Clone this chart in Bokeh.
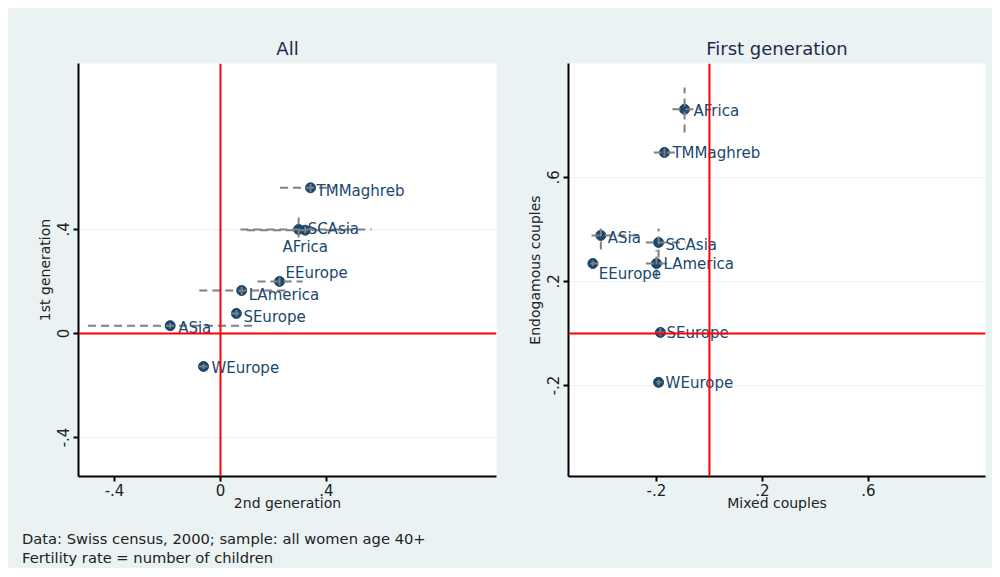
from bokeh.plotting import figure
from bokeh.models import ColumnDataSource, Range1d, FixedTicker, Span, Div
from bokeh.layouts import row, column
from bokeh.embed import file_html
from bokeh.resources import INLINE
from bokeh.core.properties import value

# ---------------- data ----------------
regions = ["TMMaghreb", "SCAsia", "AFrica", "EEurope", "LAmerica", "SEurope", "ASia", "WEurope"]

# Panel "All": x = 2nd generation, y = 1st generation
all_x = [0.34, 0.295, 0.32, 0.223, 0.08, 0.06, -0.19, -0.064]
all_y = [0.56, 0.40, 0.397, 0.20, 0.165, 0.077, 0.03, -0.127]
all_xlo = [0.225, 0.075, 0.10, 0.14, -0.08, 0.04, -0.50, -0.08]
all_xhi = [0.43, 0.57, 0.50, 0.31, 0.26, 0.08, 0.12, -0.045]
all_ylo = [0.545, 0.369, 0.385, 0.185, 0.15, 0.065, 0.02, -0.137]
all_yhi = [0.575, 0.446, 0.41, 0.215, 0.18, 0.09, 0.04, -0.117]

# Panel "First generation": x = Mixed couples, y = Endogamous couples
fg_x = [-0.17, -0.192, -0.094, -0.44, -0.20, -0.185, -0.41, -0.192]
fg_y = [0.696, 0.35, 0.862, 0.269, 0.269, 0.004, 0.377, -0.188]
fg_xlo = [-0.21, -0.24, -0.14, -0.45, -0.24, -0.20, -0.445, -0.20]
fg_xhi = [-0.117, -0.09, -0.034, -0.41, -0.16, -0.17, -0.27, -0.18]
fg_ylo = [0.68, 0.292, 0.773, 0.26, 0.215, -0.01, 0.323, -0.20]
fg_yhi = [0.72, 0.404, 0.946, 0.28, 0.32, 0.02, 0.42, -0.178]

all_ticks = [-0.4, 0, 0.4]
all_tick_labels = ["-.4", "0", ".4"]
fg_ticks = [-0.2, 0.2, 0.6]
fg_tick_labels = ["-.2", ".2", ".6"]

notes = ["Data: Swiss census, 2000; sample: all women age 40+",
         "Fertility rate = number of children"]

# label placement styles (pixels)
all_lab_dx = [6, 9, 0, 6, 7, 7, 8, 8]
all_lab_dy = [3, 0, 17, -8, 4, 4, 2, 2]
all_lab_align = ["left", "left", "center", "left", "left", "left", "left", "left"]
fg_lab_dx = [8, 7, 9, 6, 7, 6, 7, 7]
fg_lab_dy = [1, 3, 2, 11, 1, 1, 3, 1]
fg_lab_align = ["left"] * 8

# ---------------- style ----------------
BG = "#EAF2F3"
NAVY = "#1a476f"
FONT = "DejaVu Sans"
CI_COLOR = "#808080"


def make_panel(title, xs, ys, xlo, xhi, ylo, yhi, dx, dy, align,
               ticks, tick_labels, xlabel, ylabel, xr, yr, mb_left, mb_right):
    p = figure(width=492, height=516, output_backend="svg", toolbar_location=None,
               x_range=Range1d(*xr), y_range=Range1d(*yr),
               min_border_left=mb_left, min_border_right=mb_right,
               min_border_top=55, min_border_bottom=48)
    p.border_fill_color = BG
    p.background_fill_color = "white"
    p.outline_line_color = None

    p.title.text = title
    p.title.align = "center"
    p.title.text_font = FONT
    p.title.text_font_size = "18px"
    p.title.text_font_style = "normal"
    p.title.text_color = "#1e2b48"

    overrides = {t: l for t, l in zip(ticks, tick_labels)}
    for ax in (p.xaxis[0], p.yaxis[0]):
        ax.ticker = FixedTicker(ticks=ticks)
        ax.major_label_overrides = overrides
        ax.minor_tick_line_color = None
        ax.major_tick_in = 0
        ax.major_tick_out = 5
        ax.major_tick_line_width = 2
        ax.axis_line_width = 2
        ax.axis_line_color = "black"
        ax.major_tick_line_color = "black"
        ax.major_label_text_font = FONT
        ax.major_label_text_font_size = "15px"
        ax.major_label_text_color = "#222222"
        ax.axis_label_text_font = FONT
        ax.axis_label_text_font_size = "14px"
        ax.axis_label_text_font_style = "normal"
        ax.axis_label_text_color = "#222222"
        ax.major_label_standoff = 4
        ax.axis_label_standoff = 2
    p.xaxis.axis_label = xlabel
    p.yaxis.axis_label = ylabel
    p.xaxis.major_label_standoff = 2
    p.xaxis.axis_label_standoff = -4
    p.yaxis.major_label_orientation = "vertical"

    p.xgrid.visible = False
    p.ygrid.ticker = FixedTicker(ticks=ticks)
    p.ygrid.grid_line_color = BG
    p.ygrid.grid_line_width = 1

    p.add_layout(Span(location=0, dimension="height", line_color="red", line_width=2))
    p.add_layout(Span(location=0, dimension="width", line_color="red", line_width=2))

    src = ColumnDataSource(dict(x=xs, y=ys, xlo=xlo, xhi=xhi, ylo=ylo, yhi=yhi,
                                label=regions, dx=dx, dy=dy, align=align))
    p.scatter("x", "y", source=src, size=10, fill_color=NAVY, line_color=NAVY)
    p.segment(x0="xlo", y0="y", x1="xhi", y1="y", source=src,
              line_color=CI_COLOR, line_width=2, line_dash="8 5")
    p.segment(x0="x", y0="ylo", x1="x", y1="yhi", source=src,
              line_color=CI_COLOR, line_width=2, line_dash="8 5")
    p.text(x="x", y="y", text="label", x_offset="dx", y_offset="dy", source=src,
           text_align="align", text_baseline="middle", text_color=NAVY,
           text_font=value(FONT), text_font_size="15px")
    return p


p1 = make_panel("All", all_x, all_y, all_xlo, all_xhi, all_ylo, all_yhi,
                all_lab_dx, all_lab_dy, all_lab_align,
                all_ticks, all_tick_labels, "2nd generation", "1st generation",
                (-0.536, 1.042), (-0.55, 1.038), 70, 4)
p2 = make_panel("First generation", fg_x, fg_y, fg_xlo, fg_xhi, fg_ylo, fg_yhi,
                fg_lab_dx, fg_lab_dy, fg_lab_align,
                fg_ticks, fg_tick_labels, "Mixed couples", "Endogamous couples",
                (-0.532, 1.042), (-0.55, 1.038), 68, 7)

notes_html = ('<div style="font-family:\'DejaVu Sans\';font-size:14.7px;line-height:19px;'
              'color:#222222;padding:5px 0 0 14px;white-space:nowrap;">'
              + "<br>".join(notes) + "</div>")
notes_div = Div(text=notes_html, width=984, height=44, margin=(0, 0, 0, 0),
                styles={"background-color": BG})

layout = column(row(p1, p2, styles={"background-color": BG}), notes_div,
                margin=(8, 8, 8, 8), spacing=0, styles={"background-color": BG})
open("out.html", "w").write(file_html(layout, INLINE))
